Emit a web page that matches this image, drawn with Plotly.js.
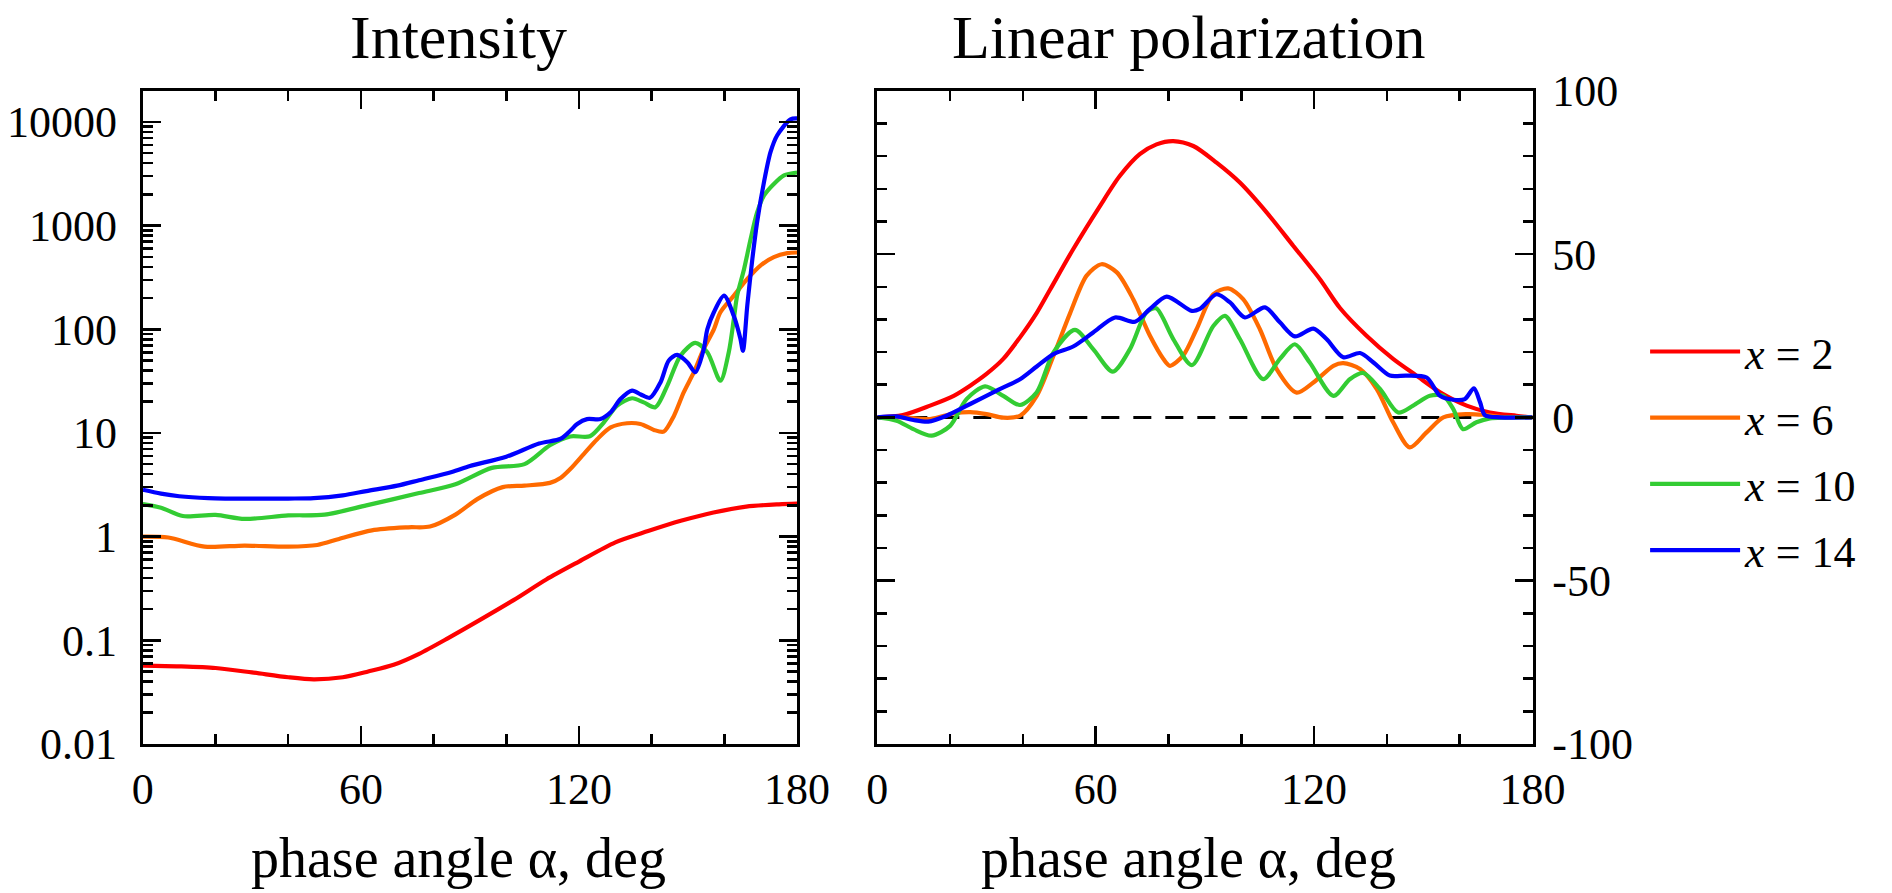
<!DOCTYPE html>
<html><head><meta charset="utf-8">
<script src="https://cdn.plot.ly/plotly-3.0.1.min.js"></script>
<style>html,body{margin:0;padding:0;background:#fff;} #chart{width:1892px;height:893px;}</style>
</head><body><div id="chart"></div>
<script>
// ---------- Intensity (left panel) ----------
const angI2 = [0,10,20,30,40,47,55,62,69,76,84,93,102,111,120,130,139,148,157,166,175,180];
const I2    = [0.057,0.056,0.054,0.049,0.044,0.042,0.044,0.050,0.058,0.074,0.105,0.159,0.244,0.386,0.575,0.88,1.13,1.42,1.71,1.95,2.05,2.08];

const angI6 = [0,7,17,28,40,48,54,63,73,79,86,92,99,105,112,115,117.6,121.3,125,128.7,133.2,136.9,140.6,143.3,146.1,148.8,151.6,154.3,157.1,158.9,162.6,166.3,169.9,173.6,177.3,180];
const I6    = [1.0,0.98,0.80,0.82,0.80,0.83,0.95,1.15,1.23,1.25,1.63,2.3,3.0,3.1,3.3,3.7,4.48,6.25,8.7,11.3,12.4,12.2,10.7,10.3,14.6,24.6,38.5,64.6,100,146,211,306,412,496,542,550];

const angI10 = [0,5,11,20,28,40,50,61.5,76,86,96,105,112,117.6,123,126.8,130.5,134.6,137.8,141,144.3,147.9,152,155.3,158.9,161.2,162.6,163.5,165.4,167.2,169,170.9,173.6,176.4,180];
const I10    = [2.06,1.9,1.58,1.62,1.48,1.6,1.63,2.0,2.63,3.2,4.6,5.0,7.6,9.25,9.3,12.6,18.3,21.6,19.7,17.7,28.6,55.6,73.8,60,31.9,60,126,211,380,740,1340,1950,2520,3050,3250];

const angI14 = [0,5,10,18,30,40,47,55,61.5,70,76,85,90,100,109,115,117.6,119.5,122.2,125.9,128.7,131.4,134.6,137,139.5,142.4,144.7,147,149.8,152,154.3,155.3,157.1,159.9,162.6,164.4,165.1,166.3,167.7,169,170.9,172.7,174.5,178.2,180];
const I14    = [2.83,2.6,2.45,2.35,2.32,2.33,2.35,2.5,2.75,3.1,3.5,4.2,4.8,5.9,7.9,8.8,10.5,12.2,13.6,13.6,15.8,21.2,25.6,23.5,21.8,30.7,50,56.5,48,38.5,64,100,146,211,134,81,62,170,480,1080,2640,5130,7400,10600,10800];

// ---------- Linear polarization (right panel) ----------
const angP2 = [0,7,14.5,21,25.5,30,34.6,39.2,43.8,47.4,53.8,61.2,66.6,72.1,76.7,81.3,86.8,93.2,99.6,107,114.3,121.6,127.1,134.4,141.7,148.1,154.6,161.9,168.3,175.6,180];
const P2    = [0,0.7,3.6,6.6,9.7,13.3,17.9,24.5,32.0,39.0,51.5,64.8,73.9,80.6,83.6,84.6,83.1,78.0,71.9,62.7,52.5,42.3,33.5,25,17.9,12.8,7.7,3.6,1.5,0.5,0];

const angP6 = [0,7,14.5,21,25.5,30,34.6,39.2,43.8,48.4,53,57.5,61.6,65.8,70.3,74.9,78.6,80.4,84,87.7,92.3,96.4,100.5,105.1,109.7,115.2,119.8,125.3,128,132.6,137.2,141.7,146.3,150.9,155.5,161.9,166.5,171.1,180];
const P6    = [0,0,-0.5,1.2,1.6,1.0,-0.1,0.5,6.6,18.9,32,43.4,46.9,44.4,36.2,25,17.9,15.8,18.9,27,37.7,39.5,36.2,27,14.8,7.6,10.7,15.8,16.6,14.8,8.7,-1.5,-9.2,-4.6,0,1.0,0.8,0.2,0];

const angP10 = [0,5.3,9.9,14.9,20,24.5,29.6,34.6,39.2,43.8,48.4,54.3,59.3,64.7,69.4,73.9,76.6,81.3,86.4,92.3,95.5,99.6,106,110.6,114.7,118.8,125.3,129.8,133.5,138.1,143.1,147.2,151.8,155.5,158.2,160.9,164.6,168.3,180];
const P10    = [0,-1.0,-3.6,-5.6,-2.6,5.6,9.5,6.6,3.8,7.7,19.9,26.8,20.9,14.0,20.9,32.1,33.4,24,16.0,28,31.1,24,11.7,17.9,22.4,16.8,6.6,11.7,13.6,8.7,1.5,3.6,6.6,6.6,2.6,-3.6,-1.5,-0.3,0];

const angP14 = [0,5.3,9.9,14,19,25.5,32.8,39.2,43.8,48.4,53.8,59.3,65.3,70.8,74.9,79.5,86.4,88.6,93.2,96.9,101,106.5,110.6,114.7,119.8,123.4,128,132.6,136.3,140.8,145.4,150.9,154.6,158.2,161.4,163.9,165.6,166.9,171.1,180];
const P14    = [0,0.3,-0.8,-1.3,0.5,4.1,8.2,11.7,15.6,19.4,21.7,26,30.6,29.3,33.2,37,32.6,33.2,37.7,35.2,30.6,33.7,29.1,24.8,27.2,24,18.4,19.7,16.8,12.8,12.8,12.2,6.6,5.4,5.6,8.9,4.6,0.7,0,0];

const seriesNames = ['<i>x</i> = 2','<i>x</i> = 6','<i>x</i> = 10','<i>x</i> = 14'];
const seriesColors = ['#ff0000','#ff6a00','#33cc33','#0000ff'];

const logTickVals = [0.01,0.1,1,10,100,1000,10000];
const logTickText = ['0.01','0.1','1','10','100','1000','10000'];
const polTickVals = [-100,-50,0,50,100];
const polTickText = ['-100','-50','0','50','100'];
const angTickVals = [0,60,120,180];
const angTickText = ['0','60','120','180'];

const panelTitles = ['Intensity','Linear polarization'];
const xTitle = 'phase angle α, deg';

const FONT = '"Liberation Serif", "Times New Roman", serif';

const intensity = [[angI2,I2],[angI6,I6],[angI10,I10],[angI14,I14]];
const polar = [[angP2,P2],[angP6,P6],[angP10,P10],[angP14,P14]];

const LW = 4.2;
const traces = [];
intensity.forEach((s,i)=>{
  traces.push({x:s[0], y:s[1], xaxis:'x', yaxis:'y', type:'scatter', mode:'lines',
    line:{color:seriesColors[i], width:LW, shape:'spline', smoothing:0.8},
    showlegend:false, hoverinfo:'skip'});
});
polar.forEach((s,i)=>{
  traces.push({x:s[0], y:s[1], xaxis:'x2', yaxis:'y2', type:'scatter', mode:'lines',
    name:seriesNames[i], legendgroup:'g'+i,
    line:{color:seriesColors[i], width:LW, shape:'spline', smoothing:0.8},
    hoverinfo:'skip'});
});

// minor ticks for the log axis (2..9 in each decade)
const logMinor = [];
for (let d=-2; d<4; d++) for (let m=2; m<=9; m++) logMinor.push(m*Math.pow(10,d));
logMinor.push(20000);

function axBase(){
  return {showline:true, linecolor:'#000', linewidth:3, mirror:'ticks',
    ticks:'inside', ticklen:18, tickwidth:2.5, tickcolor:'#000',
    showgrid:false, zeroline:false,
    tickfont:{family:FONT, size:44, color:'#000'}};
}
const minorLin = (dt)=>({ticks:'inside', ticklen:10, tickwidth:2.5, tickcolor:'#000', dtick:dt, tick0:0, showgrid:false});

const xDomL = [0.0755, 0.4213], xDomR = [0.4637, 0.8100], yDom = [0.1669, 0.8983];
const titleX = [0.2423, 0.6282];

const annotations = [];
panelTitles.forEach((t,i)=>{
  annotations.push({text:t, xref:'paper', yref:'paper', x:titleX[i], y:0.959, xanchor:'center', yanchor:'middle',
    showarrow:false, font:{family:FONT, size:62, color:'#000'}});
  annotations.push({text:xTitle, xref:'paper', yref:'paper', x:titleX[i], y:0.039, xanchor:'center', yanchor:'middle',
    showarrow:false, font:{family:FONT, size:56, color:'#000'}});
});

const layout = {
  width:1892, height:893,
  margin:{l:0,r:0,t:0,b:0},
  paper_bgcolor:'#fff', plot_bgcolor:'#fff',
  font:{family:FONT, color:'#000'},
  showlegend:true,
  xaxis: Object.assign(axBase(), {domain:xDomL, range:[0,180], anchor:'y',
    tickmode:'array', tickvals:angTickVals, ticktext:angTickText, ticklabelstandoff:4,
    minor:minorLin(20)}),
  yaxis: Object.assign(axBase(), {domain:yDom, type:'log', range:[-2,4.3], anchor:'x',
    tickmode:'array', tickvals:logTickVals, ticktext:logTickText, ticklabelstandoff:14,
    minor:{ticks:'inside', ticklen:10, tickwidth:2.5, tickcolor:'#000', tickmode:'array', tickvals:logMinor, showgrid:false}}),
  xaxis2: Object.assign(axBase(), {domain:xDomR, range:[0,180], anchor:'y2',
    tickmode:'array', tickvals:angTickVals, ticktext:angTickText, ticklabelstandoff:4,
    minor:minorLin(20)}),
  yaxis2: Object.assign(axBase(), {domain:yDom, range:[-100,100], anchor:'x2', side:'right',
    tickmode:'array', tickvals:polTickVals, ticktext:polTickText, ticklabelstandoff:8,
    minor:minorLin(10)}),
  shapes:[{type:'line', xref:'x2 domain', x0:0, x1:1, yref:'y2', y0:0, y1:0, layer:'below',
    line:{color:'#000', width:3, dash:'18px,14px'}}],
  annotations: annotations,
  legend:{x:0.8695, y:0.6457, xanchor:'left', yanchor:'top', bgcolor:'rgba(0,0,0,0)',
    font:{family:FONT, size:44, color:'#000'}, itemwidth:90, tracegroupgap:6, traceorder:'grouped'}
};

Plotly.newPlot('chart', traces, layout, {displayModeBar:false, staticPlot:true});
</script></body></html>
